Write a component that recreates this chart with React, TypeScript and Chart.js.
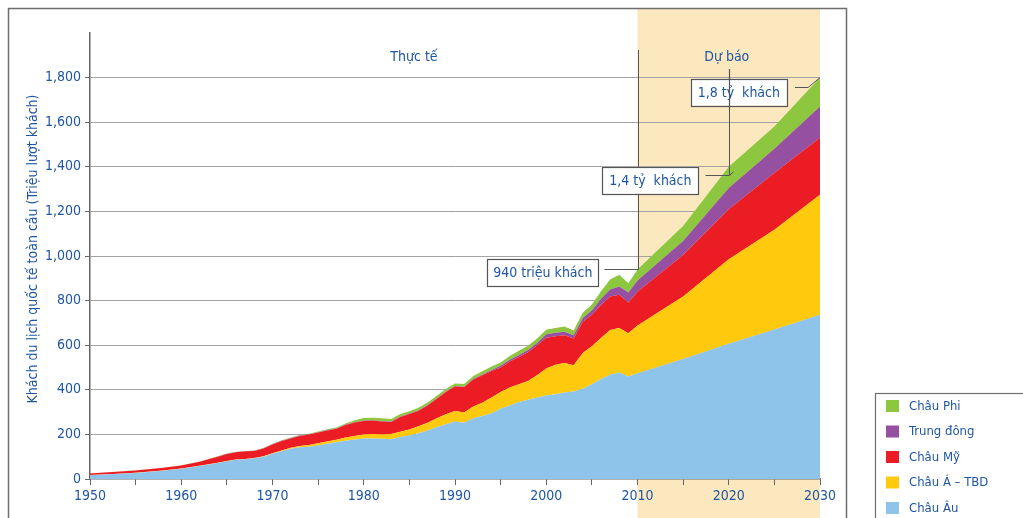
import { useEffect, useRef } from 'react';
import { Chart, registerables } from 'chart.js';

Chart.register(...registerables);

const FONT = "'Liberation Sans Narrow', 'DejaVu Sans Condensed', 'Roboto Condensed', Roboto, sans-serif";
const INK = '#1f56a3';
const FRAME = '#6e6e6e';

// Years with values (actual up to 2010, forecast afterwards)
const years = [
  1950, 1952, 1955, 1958, 1960, 1962, 1964,
  1965, 1966, 1967, 1968, 1969, 1970, 1971, 1972, 1973, 1974,
  1975, 1976, 1977, 1978, 1979, 1980, 1981, 1982, 1983, 1984,
  1985, 1986, 1987, 1988, 1989, 1990, 1991, 1992, 1993, 1994,
  1995, 1996, 1997, 1998, 1999, 2000, 2001, 2002, 2003, 2004,
  2005, 2006, 2007, 2008, 2009, 2010, 2015, 2020, 2025, 2030,
];

// International arrivals by region, millions
const europe = [
  17, 21, 27, 37, 46, 58, 72,
  80, 86, 89, 93, 100, 113, 124, 136, 142, 145,
  150, 158, 165, 172, 177, 182, 182, 180, 178, 188,
  195, 205, 218, 232, 245, 258, 252, 272, 282, 295,
  315, 330, 345, 355, 365, 375, 380, 388, 392, 405,
  425, 448, 468, 478, 460, 474, 538, 606, 670, 736,
];
const asiaPacific = [
  0.5, 0.5, 1, 1, 1, 1, 1,
  1, 1, 1, 1, 2, 3, 4, 4, 6, 8,
  10, 10, 11, 14, 16, 18, 20, 20, 24, 24,
  27, 31, 34, 40, 45, 47, 46, 53, 60, 70,
  75, 80, 80, 85, 100, 120, 132, 132, 118, 160,
  170, 184, 200, 199, 194, 214, 280, 379, 448, 539,
];
const americas = [
  7.5, 8.5, 10, 12, 13, 18, 27,
  31, 33, 34, 32, 35, 39, 42, 42, 45, 46,
  48, 50, 49, 56, 60, 60, 60, 58, 54, 66,
  70, 70, 78, 88, 100, 110, 114, 121, 123, 119,
  110, 117, 122, 128, 135, 138, 128, 125, 120, 140,
  142, 148, 150, 149, 137, 152, 187, 225, 254, 255,
];
const middleEast = [
  0.2, 0.2, 0.3, 0.4, 0.5, 0.6, 0.8,
  1, 1, 1, 1, 1, 1.5, 1.5, 2, 2, 2,
  2, 2, 2, 2, 2, 2, 2, 2, 2, 2,
  2, 2, 2, 2, 2, 2, 2, 3, 4, 5,
  8, 8, 9, 10, 10, 16, 16, 15, 15, 17,
  20, 28, 32, 37, 45, 50, 62, 95, 109, 140,
];
const africa = [
  0.3, 0.3, 0.4, 0.5, 0.6, 0.8, 1,
  1, 1, 1, 1, 1, 2, 2, 2, 2, 2,
  3, 3, 4, 5, 9, 11, 11, 12, 11, 11,
  10, 11, 11, 11, 12, 11, 12, 13, 14, 15,
  14, 17, 19, 20, 20, 20, 21, 24, 21, 23,
  25, 34, 45, 53, 42, 50, 68, 95, 100, 130,
];

const seriesNames = ['Châu Âu', 'Châu Á – TBD', 'Châu Mỹ', 'Trung đông', 'Châu Phi'];
const seriesColors = ['#8ec4ea', '#ffc90e', '#ec1c24', '#9650a2', '#8dc63f'];
const seriesValues = [europe, asiaPacific, americas, middleEast, africa];

const yMin = 0;
const yMax = 2000;
const yStep = 200;
const xMin = 1950;
const xMax = 2030;
const forecastFrom = 2010;

const yTitle = 'Khách du lịch quốc tế toàn cầu (Triệu lượt khách)';
const actualLabel = 'Thực tế';
const forecastLabel = 'Dự báo';

// Callout boxes: text, the point they refer to, and box placement relative to it
const callouts = [
  { text: '940 triệu khách', year: 2010, value: 940, boxRight: -40, boxDy: 3 },
  { text: '1,4 tỷ  khách', year: 2020, value: 1400, boxRight: -31, boxDy: 13.5 },
  { text: '1,8 tỷ  khách', year: 2030, value: 1800, boxRight: -33, boxDy: 14.5 },
];

function drawBox(ctx: CanvasRenderingContext2D, text: string, right: number, cy: number, padX: number) {
  ctx.font = `14px ${FONT}`;
  const w = ctx.measureText(text).width + padX * 2;
  const h = 27;
  const left = right - w;
  ctx.fillStyle = '#ffffff';
  ctx.fillRect(left, cy - h / 2, w, h);
  ctx.strokeStyle = '#555555';
  ctx.lineWidth = 1.2;
  ctx.strokeRect(Math.round(left) + 0.5, Math.round(cy - h / 2) + 0.5, Math.round(w), h);
  ctx.fillStyle = INK;
  ctx.textAlign = 'center';
  ctx.textBaseline = 'middle';
  ctx.fillText(text, left + w / 2, cy + 1);
}

const decorations = {
  id: 'decorations',
  beforeDraw(chart: any) {
    const { ctx, scales } = chart;
    const x = scales.x;
    const x0 = x.getPixelForValue(forecastFrom);
    const x1 = x.getPixelForValue(xMax);
    ctx.save();
    ctx.fillStyle = '#fbe8bf';
    ctx.fillRect(x0, 9, x1 - x0, chart.height - 9);
    ctx.restore();
  },
  afterDraw(chart: any) {
    const { ctx, scales } = chart;
    const x = scales.x;
    const y = scales.y;
    ctx.save();

    // outer frame
    ctx.strokeStyle = FRAME;
    ctx.lineWidth = 1.5;
    ctx.strokeRect(8.5, 8.5, 838, chart.height + 20);

    // axis title
    ctx.save();
    ctx.translate(33, 249);
    ctx.rotate(-Math.PI / 2);
    ctx.fillStyle = INK;
    ctx.font = `14px ${FONT}`;
    ctx.textAlign = 'center';
    ctx.textBaseline = 'middle';
    ctx.fillText(yTitle, 0, 0);
    ctx.restore();

    // period labels
    ctx.fillStyle = INK;
    ctx.font = `14px ${FONT}`;
    ctx.textAlign = 'center';
    ctx.textBaseline = 'middle';
    ctx.fillText(actualLabel, x.getPixelForValue(1985.5), 57);
    ctx.fillText(forecastLabel, x.getPixelForValue(2020) - 2, 57);

    // callout leader lines
    ctx.strokeStyle = '#555555';
    ctx.lineWidth = 1;
    const c0 = callouts[0];
    const px0 = Math.round(x.getPixelForValue(c0.year)) + 0.5;
    const py0 = Math.round(y.getPixelForValue(c0.value)) + 0.5;
    ctx.beginPath();
    ctx.moveTo(px0, 50);
    ctx.lineTo(px0, py0);
    ctx.moveTo(px0 + c0.boxRight + 6, py0);
    ctx.lineTo(px0, py0);
    ctx.stroke();

    const c1 = callouts[1];
    const px1 = Math.round(x.getPixelForValue(c1.year)) + 0.5;
    const py1 = y.getPixelForValue(c1.value);
    const h1 = Math.round(py1 + 8) + 0.5;
    ctx.beginPath();
    ctx.moveTo(px1, 69);
    ctx.lineTo(px1, h1);
    ctx.moveTo(px1 + c1.boxRight + 7, h1);
    ctx.lineTo(px1, h1);
    ctx.lineTo(px1 + 4, py1 + 5);
    ctx.stroke();

    const c2 = callouts[2];
    const px2 = x.getPixelForValue(c2.year);
    const py2 = y.getPixelForValue(c2.value);
    const h2 = Math.round(py2 + 9) + 0.5;
    ctx.beginPath();
    ctx.moveTo(px2 + c2.boxRight + 8, h2);
    ctx.lineTo(px2 - 12, h2);
    ctx.lineTo(px2, py2);
    ctx.stroke();

    // callout boxes
    drawBox(ctx, c0.text, px0 + c0.boxRight, py0 + c0.boxDy, 6);
    drawBox(ctx, c1.text, px1 + c1.boxRight, py1 + c1.boxDy, 7);
    drawBox(ctx, c2.text, px2 + c2.boxRight, py2 + c2.boxDy, 7);

    // vertical leader passes over the upper box
    ctx.strokeStyle = '#555555';
    ctx.beginPath();
    ctx.moveTo(px1, 69);
    ctx.lineTo(px1, 110);
    ctx.stroke();

    // legend
    ctx.strokeStyle = FRAME;
    ctx.lineWidth = 1.2;
    ctx.strokeRect(875.5, 393.5, 200, 200);
    ctx.font = `13px ${FONT}`;
    ctx.textAlign = 'left';
    ctx.textBaseline = 'middle';
    for (let i = seriesNames.length - 1, row = 0; i >= 0; i--, row++) {
      const cy = 406 + row * 25.5;
      ctx.fillStyle = seriesColors[i];
      ctx.fillRect(886, cy - 6, 13, 12);
      ctx.fillStyle = INK;
      ctx.fillText(seriesNames[i], 909, cy + 0.5);
    }
    ctx.restore();
  },
};

export default function App() {
  const canvasRef = useRef<HTMLCanvasElement | null>(null);

  useEffect(() => {
    const canvas = canvasRef.current;
    if (!canvas) return;

    const datasets = seriesNames.map((name, i) => ({
      label: name,
      data: years.map((yr, j) => ({ x: yr, y: seriesValues[i][j] })),
      backgroundColor: seriesColors[i],
      borderColor: seriesColors[i],
      borderWidth: 0,
      pointRadius: 0,
      tension: 0,
      fill: i === 0 ? 'origin' : '-1',
    }));

    const chart = new Chart(canvas, {
      type: 'line',
      data: { datasets },
      options: {
        responsive: false,
        animation: false,
        devicePixelRatio: 1,
        layout: { padding: { left: 0, right: 203, top: 33, bottom: 0 } },
        plugins: { legend: { display: false }, tooltip: { enabled: false } },
        scales: {
          x: {
            type: 'linear',
            min: xMin,
            max: xMax,
            ticks: {
              stepSize: 5,
              autoSkip: false,
              maxRotation: 0,
              color: INK,
              padding: 3,
              font: { family: FONT, size: 14 },
              callback: (v: any) => (Number(v) % 10 === 0 ? String(v) : ''),
            },
            grid: { drawOnChartArea: false, tickLength: 6, tickColor: '#666666', tickWidth: 1 },
            border: { color: '#666666', width: 1.5 },
            afterFit: (s: any) => {
              s.height = 39;
              s.paddingLeft = 0;
              s.paddingRight = 0;
            },
          },
          y: {
            stacked: true,
            min: yMin,
            max: yMax,
            ticks: {
              stepSize: yStep,
              color: INK,
              padding: 4,
              font: { family: FONT, size: 14 },
              callback: (v: any) => (Number(v) === yMax ? '' : Number(v).toLocaleString('en-US')),
            },
            grid: {
              color: (c: any) => (c.tick && (c.tick.value === 0 || c.tick.value === yMax) ? 'rgba(0,0,0,0)' : '#a3a3a3'),
              tickColor: (c: any) => (c.tick && c.tick.value === yMax ? 'rgba(0,0,0,0)' : '#666666'),
              tickLength: 5,
              lineWidth: 1,
            },
            border: { color: '#666666', width: 1.5 },
            afterFit: (s: any) => {
              s.width = 90;
              s.paddingTop = 0;
              s.paddingBottom = 0;
            },
          },
        },
      } as any,
      plugins: [decorations],
    });

    return () => chart.destroy();
  }, []);

  return (
    <div style={{ position: 'absolute', left: 0, top: 0, width: 1023, height: 518, background: '#ffffff' }}>
      <canvas ref={canvasRef} width={1023} height={518} style={{ display: 'block', width: 1023, height: 518 }} />
    </div>
  );
}
